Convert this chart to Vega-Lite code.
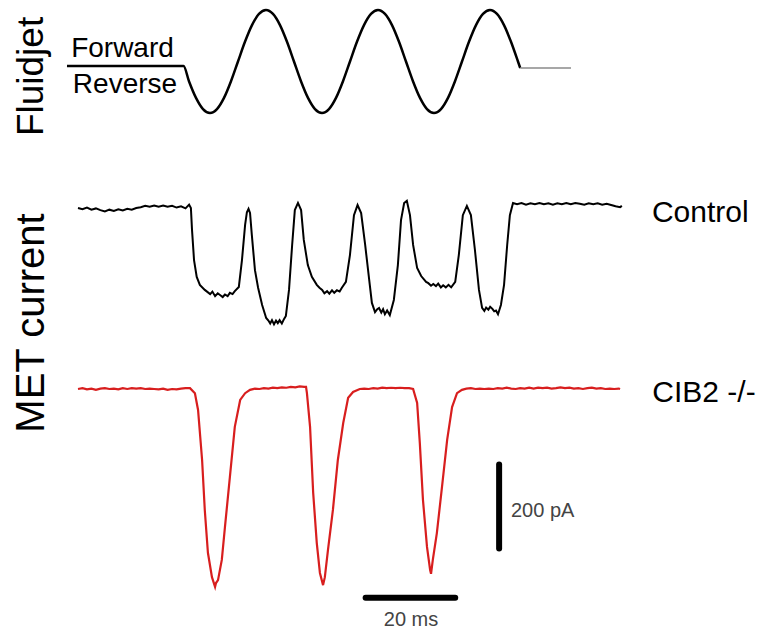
{
  "$schema": "https://vega.github.io/schema/vega-lite/v6.json",
  "width": 763,
  "height": 632,
  "autosize": {"type": "fit", "contains": "padding"},
  "padding": 0,
  "background": "white",
  "config": {"view": {"stroke": null}, "font": "Liberation Sans", "text": {"font": "Liberation Sans"}},
  "resolve": {"scale": {"y": "independent"}},
  "datasets": {
    "stim": [
      {"t": -2.46, "v": -0.087, "part": "stim"}, {"t": 23.56, "v": -0.087, "part": "stim"},
      {"t": 24.77, "v": -0.383, "part": "stim"}, {"t": 26.34, "v": -0.707, "part": "stim"}, {"t": 27.90, "v": -0.924, "part": "stim"}, {"t": 29.46, "v": -1, "part": "stim"},
      {"t": 31.02, "v": -0.924, "part": "stim"}, {"t": 32.59, "v": -0.707, "part": "stim"}, {"t": 34.15, "v": -0.383, "part": "stim"}, {"t": 35.71, "v": 0, "part": "stim"},
      {"t": 37.27, "v": 0.383, "part": "stim"}, {"t": 38.84, "v": 0.707, "part": "stim"}, {"t": 40.40, "v": 0.924, "part": "stim"}, {"t": 41.96, "v": 1, "part": "stim"},
      {"t": 43.52, "v": 0.924, "part": "stim"}, {"t": 45.09, "v": 0.707, "part": "stim"}, {"t": 46.65, "v": 0.383, "part": "stim"}, {"t": 48.21, "v": 0, "part": "stim"},
      {"t": 49.77, "v": -0.383, "part": "stim"}, {"t": 51.34, "v": -0.707, "part": "stim"}, {"t": 52.90, "v": -0.924, "part": "stim"}, {"t": 54.46, "v": -1, "part": "stim"},
      {"t": 56.02, "v": -0.924, "part": "stim"}, {"t": 57.59, "v": -0.707, "part": "stim"}, {"t": 59.15, "v": -0.383, "part": "stim"}, {"t": 60.71, "v": 0, "part": "stim"},
      {"t": 62.27, "v": 0.383, "part": "stim"}, {"t": 63.84, "v": 0.707, "part": "stim"}, {"t": 65.40, "v": 0.924, "part": "stim"}, {"t": 66.96, "v": 1, "part": "stim"},
      {"t": 68.52, "v": 0.924, "part": "stim"}, {"t": 70.09, "v": 0.707, "part": "stim"}, {"t": 71.65, "v": 0.383, "part": "stim"}, {"t": 73.21, "v": 0, "part": "stim"},
      {"t": 74.77, "v": -0.383, "part": "stim"}, {"t": 76.34, "v": -0.707, "part": "stim"}, {"t": 77.90, "v": -0.924, "part": "stim"}, {"t": 79.46, "v": -1, "part": "stim"},
      {"t": 81.02, "v": -0.924, "part": "stim"}, {"t": 82.59, "v": -0.707, "part": "stim"}, {"t": 84.15, "v": -0.383, "part": "stim"}, {"t": 85.71, "v": 0, "part": "stim"},
      {"t": 87.27, "v": 0.383, "part": "stim"}, {"t": 88.84, "v": 0.707, "part": "stim"}, {"t": 90.40, "v": 0.924, "part": "stim"}, {"t": 91.96, "v": 1, "part": "stim"},
      {"t": 93.52, "v": 0.924, "part": "stim"}, {"t": 95.09, "v": 0.707, "part": "stim"}, {"t": 96.65, "v": 0.383, "part": "stim"}, {"t": 98.21, "v": 0, "part": "stim"},
      {"t": 98.71, "v": -0.126, "part": "stim"}
    ],
    "hold": [
      {"t": 98.71, "v": -0.126}, {"t": 110.04, "v": -0.126}
    ],
    "control": [
      {"t": 0, "i": 0}, {"t": 1, "i": -3}, {"t": 2, "i": 1}, {"t": 3, "i": -4}, {"t": 4, "i": -1}, {"t": 5, "i": -5}, {"t": 6, "i": -8}, {"t": 7, "i": -4},
      {"t": 8, "i": -7}, {"t": 9, "i": -3}, {"t": 10, "i": -6}, {"t": 11, "i": -2}, {"t": 12, "i": -4}, {"t": 13, "i": 0}, {"t": 14, "i": 2}, {"t": 15, "i": 5},
      {"t": 16, "i": 3}, {"t": 17, "i": 6}, {"t": 18, "i": 3}, {"t": 19, "i": 6}, {"t": 20, "i": 3}, {"t": 21, "i": 5}, {"t": 22, "i": 1}, {"t": 23, "i": 4},
      {"t": 24, "i": -1}, {"t": 24.8, "i": 8}, {"t": 25.2, "i": 0},
      {"t": 25.45, "i": -52}, {"t": 25.9, "i": -124}, {"t": 26.5, "i": -164}, {"t": 27.2, "i": -183}, {"t": 28.3, "i": -195}, {"t": 29.5, "i": -205},
      {"t": 30.0, "i": -199}, {"t": 30.6, "i": -210}, {"t": 31.2, "i": -203}, {"t": 31.7, "i": -207}, {"t": 32.3, "i": -212}, {"t": 32.8, "i": -206}, {"t": 33.4, "i": -210},
      {"t": 33.9, "i": -202}, {"t": 34.5, "i": -205}, {"t": 35.0, "i": -198}, {"t": 35.9, "i": -188}, {"t": 36.6, "i": -124}, {"t": 37.3, "i": -40},
      {"t": 37.7, "i": -10}, {"t": 38.06, "i": -2}, {"t": 38.4, "i": -12}, {"t": 38.8, "i": -64}, {"t": 39.5, "i": -148}, {"t": 40.2, "i": -190},
      {"t": 41.1, "i": -231}, {"t": 42.0, "i": -262}, {"t": 42.5, "i": -268}, {"t": 42.9, "i": -275}, {"t": 43.3, "i": -267}, {"t": 43.75, "i": -277},
      {"t": 44.2, "i": -268}, {"t": 44.6, "i": -274}, {"t": 45.0, "i": -267}, {"t": 45.5, "i": -275}, {"t": 46.0, "i": -264}, {"t": 46.4, "i": -257},
      {"t": 47.1, "i": -195}, {"t": 47.8, "i": -88}, {"t": 48.4, "i": -5}, {"t": 49.1, "i": 12}, {"t": 49.8, "i": -5}, {"t": 50.4, "i": -76},
      {"t": 51.3, "i": -136}, {"t": 52.2, "i": -164}, {"t": 53.3, "i": -183}, {"t": 53.9, "i": -190}, {"t": 54.5, "i": -195}, {"t": 55.0, "i": -203}, {"t": 55.6, "i": -198},
      {"t": 56.1, "i": -204}, {"t": 56.7, "i": -196}, {"t": 57.2, "i": -202}, {"t": 57.8, "i": -196}, {"t": 58.4, "i": -199}, {"t": 58.9, "i": -190},
      {"t": 59.8, "i": -176}, {"t": 60.7, "i": -112}, {"t": 61.6, "i": -17}, {"t": 62.4, "i": 7}, {"t": 63.2, "i": -12}, {"t": 64.1, "i": -88},
      {"t": 65.0, "i": -171}, {"t": 65.6, "i": -226}, {"t": 66.3, "i": -248}, {"t": 66.8, "i": -241}, {"t": 67.2, "i": -238}, {"t": 67.7, "i": -249}, {"t": 68.1, "i": -241},
      {"t": 68.5, "i": -253}, {"t": 69.0, "i": -244}, {"t": 69.6, "i": -255}, {"t": 70.5, "i": -219}, {"t": 71.4, "i": -136}, {"t": 72.1, "i": -29},
      {"t": 72.8, "i": 12}, {"t": 73.4, "i": 17}, {"t": 74.1, "i": -17}, {"t": 74.8, "i": -88}, {"t": 75.7, "i": -143}, {"t": 76.6, "i": -162},
      {"t": 77.7, "i": -176}, {"t": 78.2, "i": -179}, {"t": 78.8, "i": -185}, {"t": 79.3, "i": -181}, {"t": 79.9, "i": -186}, {"t": 80.4, "i": -180}, {"t": 81.0, "i": -189},
      {"t": 81.5, "i": -184}, {"t": 82.1, "i": -189}, {"t": 82.7, "i": -183}, {"t": 83.3, "i": -189}, {"t": 84.2, "i": -176}, {"t": 85.0, "i": -112},
      {"t": 85.9, "i": -17}, {"t": 86.8, "i": 5}, {"t": 87.7, "i": -17}, {"t": 88.6, "i": -100}, {"t": 89.5, "i": -195}, {"t": 90.2, "i": -238},
      {"t": 90.7, "i": -245}, {"t": 91.1, "i": -237}, {"t": 91.6, "i": -242}, {"t": 92.0, "i": -235}, {"t": 92.5, "i": -240}, {"t": 92.9, "i": -246}, {"t": 93.3, "i": -244},
      {"t": 93.75, "i": -253}, {"t": 94.4, "i": -231}, {"t": 95.1, "i": -183}, {"t": 95.8, "i": -88}, {"t": 96.4, "i": -17}, {"t": 97.1, "i": 12},
      {"t": 98, "i": 9}, {"t": 99, "i": 12}, {"t": 100, "i": 8}, {"t": 101, "i": 11}, {"t": 102, "i": 9}, {"t": 103, "i": 12}, {"t": 104, "i": 9},
      {"t": 105, "i": 11}, {"t": 106, "i": 8}, {"t": 107, "i": 11}, {"t": 108, "i": 9}, {"t": 109, "i": 12}, {"t": 110, "i": 9}, {"t": 111, "i": 12},
      {"t": 112, "i": 10}, {"t": 113, "i": 8}, {"t": 114, "i": 11}, {"t": 115, "i": 9}, {"t": 116, "i": 11}, {"t": 117, "i": 8}, {"t": 118, "i": 10},
      {"t": 119, "i": 7}, {"t": 120, "i": 4}, {"t": 121, "i": 2}, {"t": 121.4, "i": 5}
    ],
    "cib2": [
      {"t": 0, "i": 0}, {"t": 1, "i": 2}, {"t": 2, "i": -1}, {"t": 3, "i": 1}, {"t": 4, "i": -2}, {"t": 5, "i": 1}, {"t": 6, "i": 2}, {"t": 7, "i": 0},
      {"t": 8, "i": 1}, {"t": 9, "i": -1}, {"t": 10, "i": 2}, {"t": 11, "i": 0}, {"t": 12, "i": 2}, {"t": 13, "i": 1}, {"t": 14, "i": 2}, {"t": 15, "i": 0},
      {"t": 16, "i": 1}, {"t": 17, "i": 0}, {"t": 18, "i": -1}, {"t": 19, "i": 1}, {"t": 20, "i": -2}, {"t": 21, "i": 0}, {"t": 22, "i": -1}, {"t": 23, "i": 1},
      {"t": 24, "i": 2}, {"t": 25.0, "i": 2},
      {"t": 26.1, "i": -10}, {"t": 26.8, "i": -50}, {"t": 27.7, "i": -169}, {"t": 28.3, "i": -288}, {"t": 29.0, "i": -390}, {"t": 29.9, "i": -448},
      {"t": 30.6, "i": -471}, {"t": 30.8, "i": -462}, {"t": 31.25, "i": -455}, {"t": 32.1, "i": -407}, {"t": 32.8, "i": -329}, {"t": 33.9, "i": -210},
      {"t": 35.0, "i": -90}, {"t": 36.2, "i": -26}, {"t": 37.3, "i": -10}, {"t": 38.4, "i": -2},
      {"t": 39.5, "i": 1}, {"t": 40.5, "i": 0}, {"t": 41.5, "i": 2}, {"t": 42.5, "i": 1}, {"t": 43.5, "i": 3}, {"t": 44.5, "i": 2}, {"t": 45.5, "i": 4},
      {"t": 46.5, "i": 3}, {"t": 47.5, "i": 5}, {"t": 48.5, "i": 4}, {"t": 49.5, "i": 6}, {"t": 50.5, "i": 5}, {"t": 50.9, "i": 5},
      {"t": 51.1, "i": -10}, {"t": 51.8, "i": -90}, {"t": 52.5, "i": -248}, {"t": 53.3, "i": -367}, {"t": 54.0, "i": -438}, {"t": 54.7, "i": -467},
      {"t": 55.1, "i": -448}, {"t": 55.8, "i": -383}, {"t": 56.9, "i": -288}, {"t": 58.0, "i": -169}, {"t": 59.2, "i": -81}, {"t": 60.3, "i": -21},
      {"t": 61.4, "i": -7}, {"t": 62.9, "i": 0},
      {"t": 63.9, "i": 1}, {"t": 64.9, "i": 0}, {"t": 65.9, "i": 2}, {"t": 66.9, "i": 1}, {"t": 67.9, "i": 3}, {"t": 68.9, "i": 2}, {"t": 69.9, "i": 3},
      {"t": 70.9, "i": 2}, {"t": 71.9, "i": 3}, {"t": 72.9, "i": 2}, {"t": 73.9, "i": 2}, {"t": 74.8, "i": 0},
      {"t": 75.7, "i": -33}, {"t": 76.3, "i": -129}, {"t": 77.0, "i": -264}, {"t": 77.9, "i": -376}, {"t": 78.6, "i": -431}, {"t": 78.8, "i": -440},
      {"t": 79.2, "i": -407}, {"t": 80.1, "i": -343}, {"t": 81.25, "i": -233}, {"t": 82.4, "i": -121}, {"t": 83.5, "i": -43}, {"t": 84.6, "i": -10},
      {"t": 85.7, "i": -2},
      {"t": 86.7, "i": 1}, {"t": 87.7, "i": 2}, {"t": 88.7, "i": 0}, {"t": 89.7, "i": 1}, {"t": 90.7, "i": 0}, {"t": 91.7, "i": 1}, {"t": 92.7, "i": 0},
      {"t": 93.7, "i": 2}, {"t": 94.7, "i": 1}, {"t": 95.7, "i": 3}, {"t": 96.7, "i": 1}, {"t": 97.7, "i": 0}, {"t": 98.7, "i": 2}, {"t": 99.7, "i": 1},
      {"t": 100.7, "i": 3}, {"t": 101.7, "i": 1}, {"t": 102.7, "i": 3}, {"t": 103.7, "i": 2}, {"t": 104.7, "i": 3}, {"t": 105.7, "i": 1}, {"t": 106.7, "i": 2},
      {"t": 107.7, "i": 4}, {"t": 108.7, "i": 2}, {"t": 109.7, "i": 3}, {"t": 110.7, "i": 1}, {"t": 111.7, "i": 2}, {"t": 112.7, "i": 0}, {"t": 113.7, "i": 2},
      {"t": 114.7, "i": 3}, {"t": 115.7, "i": 1}, {"t": 116.7, "i": 2}, {"t": 117.7, "i": 0}, {"t": 118.7, "i": 1}, {"t": 119.7, "i": 0}, {"t": 120.7, "i": 1},
      {"t": 121.0, "i": 0}
    ]
  },
  "layer": [
    {
      "layer": [
        {
          "data": {"name": "stim"},
          "mark": {"type": "line", "color": "black", "strokeWidth": 2.5, "interpolate": "monotone"},
          "encoding": {
            "x": {"field": "t", "type": "quantitative", "scale": {"domain": [-17.41, 152.9], "nice": false, "zero": false}, "axis": null},
            "y": {"field": "v", "type": "quantitative", "scale": {"domain": [-11.078, 1.194], "nice": false, "zero": false}, "axis": null}
          }
        },
        {
          "data": {"name": "hold"},
          "mark": {"type": "line", "color": "#8a8a8a", "strokeWidth": 1.6},
          "encoding": {
            "x": {"field": "t", "type": "quantitative"},
            "y": {"field": "v", "type": "quantitative"}
          }
        },
        {
          "data": {"values": [
            {"t": 9.93, "v": 0.087, "label": "Forward"},
            {"t": 10.49, "v": -0.612, "label": "Reverse"}
          ]},
          "mark": {"type": "text", "fontSize": 28, "align": "center", "baseline": "alphabetic", "color": "black"},
          "encoding": {
            "x": {"field": "t", "type": "quantitative"},
            "y": {"field": "v", "type": "quantitative"},
            "text": {"field": "label"}
          }
        },
        {
          "data": {"values": [{"t": -7.81, "v": -0.291, "label": "Fluidjet"}]},
          "mark": {"type": "text", "fontSize": 37, "angle": 270, "align": "center", "baseline": "alphabetic", "color": "black"},
          "encoding": {
            "x": {"field": "t", "type": "quantitative"},
            "y": {"field": "v", "type": "quantitative"},
            "text": {"field": "label"}
          }
        }
      ]
    },
    {
      "layer": [
        {
          "data": {"name": "control"},
          "mark": {"type": "line", "color": "black", "strokeWidth": 2},
          "encoding": {
            "x": {"field": "t", "type": "quantitative", "scale": {"domain": [-17.41, 152.9], "nice": false, "zero": false}, "axis": null},
            "y": {"field": "i", "type": "quantitative", "scale": {"domain": [-1009.5, 495.2], "nice": false, "zero": false}, "axis": null}
          }
        },
        {
          "data": {"values": [{"t": 128.1, "i": -33.3, "label": "Control"}]},
          "mark": {"type": "text", "fontSize": 30, "align": "left", "baseline": "alphabetic", "color": "black"},
          "encoding": {
            "x": {"field": "t", "type": "quantitative"},
            "y": {"field": "i", "type": "quantitative"},
            "text": {"field": "label"}
          }
        },
        {
          "data": {"values": [{"t": -7.59, "i": -273.8, "label": "MET current"}]},
          "mark": {"type": "text", "fontSize": 40, "angle": 270, "align": "center", "baseline": "alphabetic", "color": "black"},
          "encoding": {
            "x": {"field": "t", "type": "quantitative"},
            "y": {"field": "i", "type": "quantitative"},
            "text": {"field": "label"}
          }
        }
      ]
    },
    {
      "layer": [
        {
          "data": {"name": "cib2"},
          "mark": {"type": "line", "color": "#d81e1e", "strokeWidth": 2.2},
          "encoding": {
            "x": {"field": "t", "type": "quantitative", "scale": {"domain": [-17.41, 152.9], "nice": false, "zero": false}, "axis": null},
            "y": {"field": "i", "type": "quantitative", "scale": {"domain": [-578.6, 926.2], "nice": false, "zero": false}, "axis": null}
          }
        },
        {
          "data": {"values": [
            {"bar": "200 pA", "t": 94, "t2": 94, "i": -180, "i2": -380},
            {"bar": "20 ms", "t": 64.2, "t2": 84.2, "i": -497, "i2": -497}
          ]},
          "mark": {"type": "rule", "color": "black", "strokeWidth": 6, "strokeCap": "round"},
          "encoding": {
            "x": {"field": "t", "type": "quantitative"},
            "x2": {"field": "t2"},
            "y": {"field": "i", "type": "quantitative"},
            "y2": {"field": "i2"}
          }
        },
        {
          "data": {"values": [{"t": 128.2, "i": -31, "label": "CIB2 -/-"}]},
          "mark": {"type": "text", "fontSize": 30, "align": "left", "baseline": "alphabetic", "color": "black"},
          "encoding": {
            "x": {"field": "t", "type": "quantitative"},
            "y": {"field": "i", "type": "quantitative"},
            "text": {"field": "label"}
          }
        },
        {
          "data": {"values": [{"t": 96.65, "i": -304.8, "label": "200 pA"}]},
          "mark": {"type": "text", "fontSize": 20, "align": "left", "baseline": "alphabetic", "color": "#444444"},
          "encoding": {
            "x": {"field": "t", "type": "quantitative"},
            "y": {"field": "i", "type": "quantitative"},
            "text": {"field": "label"}
          }
        },
        {
          "data": {"values": [{"t": 74.33, "i": -564.3, "label": "20 ms"}]},
          "mark": {"type": "text", "fontSize": 20, "align": "center", "baseline": "alphabetic", "color": "#444444"},
          "encoding": {
            "x": {"field": "t", "type": "quantitative"},
            "y": {"field": "i", "type": "quantitative"},
            "text": {"field": "label"}
          }
        }
      ]
    }
  ]
}
